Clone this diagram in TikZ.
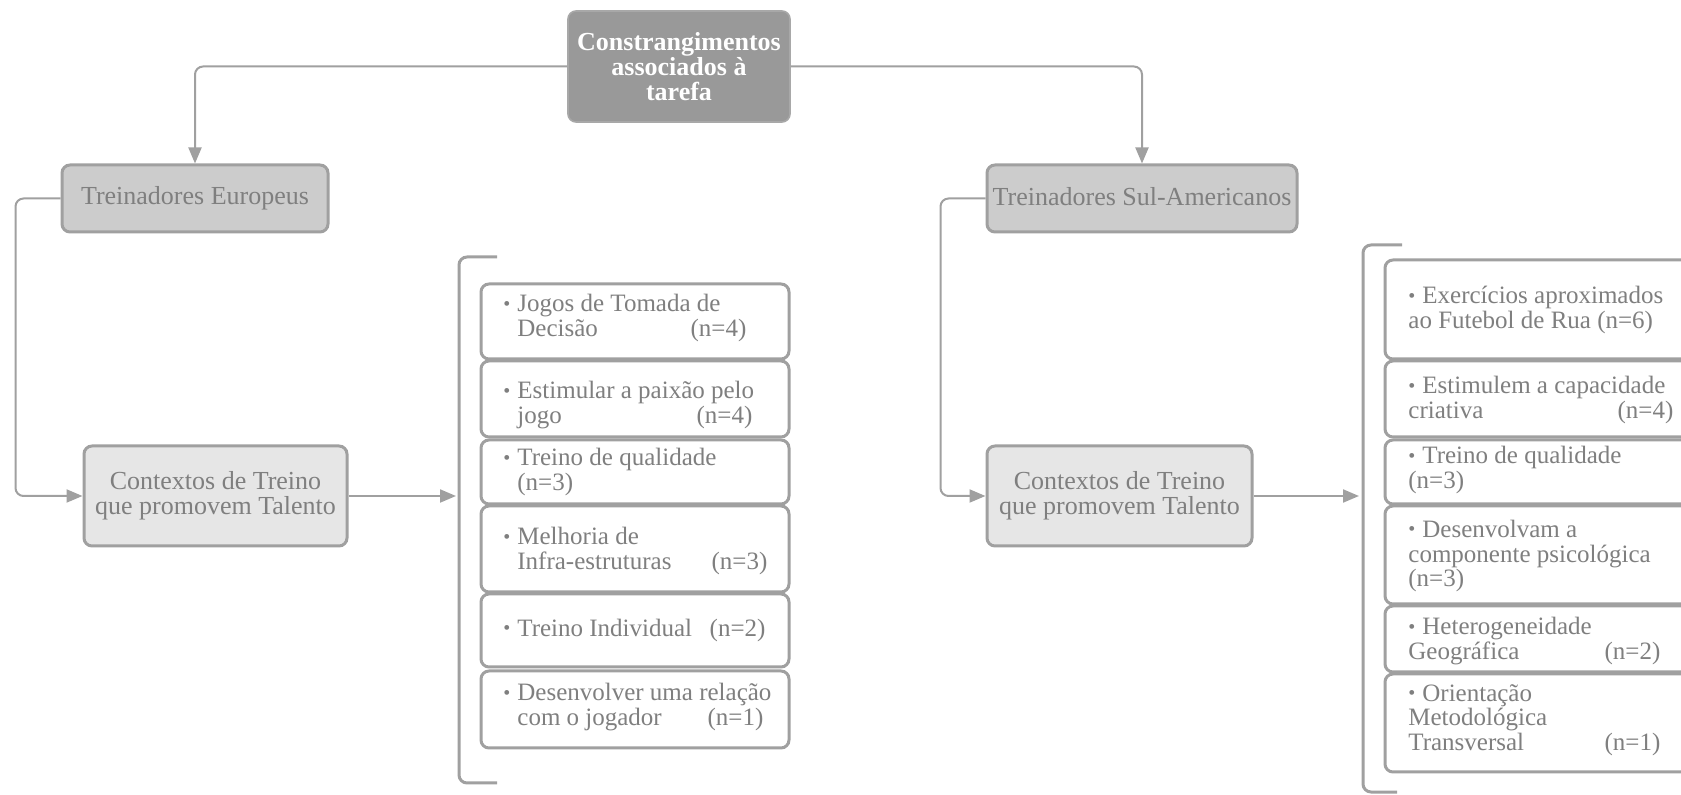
\documentclass[tikz,border=0pt]{standalone}
\usepackage{fontspec}
\setmainfont{Liberation Serif}
\usetikzlibrary{arrows.meta}

\definecolor{linegray}{HTML}{A0A0A0}
\definecolor{txtgray}{HTML}{7F7F7F}
\definecolor{headfill}{HTML}{999999}
\definecolor{headrim}{HTML}{A8A8A8}
\definecolor{groupfill}{HTML}{CCCCCC}
\definecolor{ctxfill}{HTML}{E6E6E6}

% small bullet and the matching indent for continuation lines
\newcommand{\itembul}{\makebox[7pt][l]{\raisebox{0.8pt}{\fontsize{10}{10}\selectfont •}}}
\newcommand{\itemind}{\hspace*{7pt}}
% a line of given width with the count pushed to its right end
\newcommand{\cntline}[3]{\makebox[#1][l]{#2\hfill#3}}

\begin{document}
\begin{tikzpicture}[x=0.5pt,y=-0.5pt,
  font=\fontsize{13}{12.5}\selectfont,
  conn/.style={draw=linegray, line width=1pt, rounded corners=4pt},
  arr/.style={conn, -{Triangle[length=8pt,width=6.5pt]}},
  headbox/.style={draw=headrim, fill=headfill, line width=0.8pt, rounded corners=4pt,
    text=white, font=\bfseries\fontsize{13}{12.5}\selectfont, align=center,
    minimum width=111pt, minimum height=55.5pt, inner sep=0pt},
  groupbox/.style={draw=linegray, fill=groupfill, line width=1.5pt, rounded corners=4pt,
    text=txtgray, minimum height=33.5pt, inner sep=0pt},
  ctxbox/.style={draw=linegray, fill=ctxfill, line width=1.5pt, rounded corners=4pt,
    text=txtgray, align=center, minimum height=50pt, inner sep=0pt},
  itembox/.style={draw=linegray, fill=white, line width=1.5pt, rounded corners=4pt, inner sep=0pt},
  itemtext/.style={anchor=west, align=left, text=txtgray, inner sep=0pt,
    font=\fontsize{12.5}{12.3}\selectfont},
  bracket/.style={draw=linegray, line width=1.5pt, rounded corners=4pt}
]
\useasboundingbox (0,0) rectangle (1681,795);
\clip (0,0) rectangle (1681,795);

% ---------- root and the two coach groups ----------
\node[headbox] (top) at (679,66.5) {Constrangimentos\\associados à\\tarefa};
\node[groupbox, minimum width=133pt] (te) at (195,198.5) {\raisebox{2pt}{Treinadores Europeus}};
\node[groupbox, minimum width=155pt] (tsa) at (1142,198.5) {\raisebox{2pt}{Treinadores Sul-Americanos}};

\node[ctxbox, minimum width=131.5pt] (cl) at (215.5,496) {Contextos de Treino\\que promovem Talento};
\node[ctxbox, minimum width=132.5pt] (cr) at (1119.5,496) {Contextos de Treino\\que promovem Talento};

% ---------- brackets gathering the item lists ----------
\draw[bracket] (497,257) -- (459,257) -- (459,783) -- (497,783);
\draw[bracket] (1402,245) -- (1363,245) -- (1363,792) -- (1397,792);
\coordinate (lbr) at (456,496);
\coordinate (rbr) at (1359,496);

% ---------- connectors ----------
\draw[arr] (top.west) -| (te.north);
\draw[arr] (top.east) -| (tsa.north);
\draw[arr] (te.west) -- ++(-45,0) |- (cl.west);
\draw[arr] (tsa.west) -- ++(-45,0) |- (cr.west);
\draw[arr] (cl.east) -- (cl.east -| lbr);
\draw[arr] (cr.east) -- (cr.east -| rbr);

% ---------- European list ----------
\node[itembox, minimum width=154pt, minimum height=37.5pt] (l1) at (635,321.5) {};
\node[itembox, minimum width=154pt, minimum height=38pt]   (l2) at (635,399) {};
\node[itembox, minimum width=154pt, minimum height=32pt]   (l3) at (635,472) {};
\node[itembox, minimum width=154pt, minimum height=43pt]   (l4) at (635,549) {};
\node[itembox, minimum width=154pt, minimum height=36.5pt] (l5) at (635,630.5) {};
\node[itembox, minimum width=154pt, minimum height=38.5pt] (l6) at (635,709.5) {};

\node[itemtext] (l1t) at (503,318) {\itembul Jogos de Tomada de\\\itemind\cntline{114.5pt}{Decisão}{(n=4)}};
\node[itemtext] (l2t) at (503,405) {\itembul Estimular a paixão pelo\\\itemind\cntline{117.5pt}{jogo}{(n=4)}};
\node[itemtext] (l3t) at (503,472) {\itembul Treino de qualidade\\\itemind (n=3)};
\node[itemtext] (l4t) at (503,551) {\itembul Melhoria de\\\itemind\cntline{125pt}{Infra-estruturas}{(n=3)}};
\node[itemtext] (l5t) at (503,630) {\itembul\cntline{124pt}{Treino Individual}{(n=2)}};
\node[itemtext] (l6t) at (503,707) {\itembul Desenvolver uma relação\\\itemind\cntline{123pt}{com o jogador}{(n=1)}};

% ---------- South American list ----------
\node[itembox, minimum width=160pt, minimum height=49.5pt] (r1) at (1545,309.5) {};
\node[itembox, minimum width=160pt, minimum height=38pt]   (r2) at (1545,399) {};
\node[itembox, minimum width=160pt, minimum height=32pt]   (r3) at (1545,472) {};
\node[itembox, minimum width=160pt, minimum height=49pt]   (r4) at (1545,555) {};
\node[itembox, minimum width=160pt, minimum height=33pt]   (r5) at (1545,639) {};
\node[itembox, minimum width=160pt, minimum height=49pt]   (r6) at (1545,723) {};

\node[itemtext] (r1t) at (1408,310) {\itembul Exercícios aproximados\\ao Futebol de Rua (n=6)};
\node[itemtext] (r2t) at (1408,400) {\itembul Estimulem a capacidade\\\cntline{132.5pt}{criativa}{(n=4)}};
\node[itemtext] (r3t) at (1408,470) {\itembul Treino de qualidade\\(n=3)};
\node[itemtext] (r4t) at (1408,556) {\itembul Desenvolvam a\\componente psicológica\\(n=3)};
\node[itemtext] (r5t) at (1408,641) {\itembul Heterogeneidade\\\cntline{126pt}{Geográfica}{(n=2)}};
\node[itemtext] (r6t) at (1408,720) {\itembul Orientação\\Metodológica\\\cntline{126pt}{Transversal}{(n=1)}};
\end{tikzpicture}
\end{document}
